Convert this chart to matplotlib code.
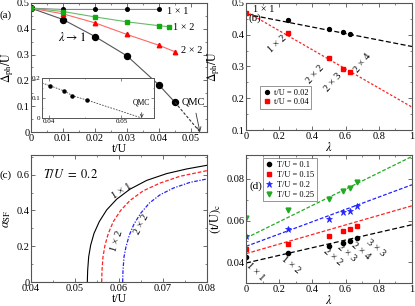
import matplotlib
matplotlib.use("Agg")
import matplotlib.pyplot as plt
from matplotlib.ticker import MultipleLocator, FuncFormatter

plt.rcParams['font.family'] = ['Liberation Serif', 'DejaVu Serif']
plt.rcParams['mathtext.fontset'] = 'stix'
plt.rcParams['font.size'] = 7.5

# ---------------- data ----------------
# panel (a)
t_a = [0.0, 0.01, 0.02, 0.03, 0.04]
d_11 = [0.48, 0.475, 0.475, 0.475, 0.475]
t_12 = [0.0, 0.01, 0.02, 0.03, 0.04, 0.043]
d_12 = [0.48, 0.467, 0.446, 0.427, 0.412, 0.408]
t_22 = [0.0, 0.01, 0.02, 0.03, 0.04, 0.045]
d_22 = [0.48, 0.458, 0.423, 0.378, 0.336, 0.311]
t_inf = [0.0, 0.01, 0.02, 0.03, 0.04, 0.045]
d_inf = [0.48, 0.436, 0.37, 0.295, 0.182, 0.115]
t_qmc = 0.0528
inset_t = [0.0401, 0.0421, 0.0432, 0.0452]
inset_d = [0.1615, 0.135, 0.1115, 0.09]
inset_line_t = [0.039, 0.0401, 0.0421, 0.0432, 0.0452, 0.0528]
inset_line_d = [0.175, 0.1615, 0.135, 0.1115, 0.09, 0.0]

# panel (b)
lam_b = [0.0, 0.25, 0.5, 0.583, 0.625]
d_b02 = [0.47, 0.447, 0.418, 0.408, 0.403]
d_b04 = [0.47, 0.407, 0.326, 0.291, 0.284]
fit_b02 = [0.465, 0.363]   # values at lambda = 0 and 1
fit_b04 = [0.473, 0.172]

# panel (c)
t_c11 = [0.0528, 0.05288, 0.05311, 0.05356, 0.05432, 0.05553, 0.0572, 0.05947,
         0.0625, 0.06629, 0.07083, 0.07538, 0.08]
a_c11 = [0.0, 0.0656, 0.141, 0.206, 0.272, 0.338, 0.403, 0.463, 0.519, 0.568,
         0.606, 0.632, 0.6525]
t_c12 = [0.05606, 0.05614, 0.05636, 0.05682, 0.05758, 0.05871, 0.06038, 0.0625,
         0.06553, 0.06932, 0.07386, 0.08]
a_c12 = [0.0, 0.0656, 0.141, 0.206, 0.272, 0.338, 0.4, 0.456, 0.51, 0.553,
         0.591, 0.6225]
t_c22 = [0.06083, 0.06091, 0.06114, 0.06159, 0.06235, 0.06341, 0.06492, 0.06689,
         0.06932, 0.07235, 0.07614, 0.08]
a_c22 = [0.0, 0.0656, 0.141, 0.197, 0.2625, 0.324, 0.384, 0.441, 0.4875, 0.525,
         0.557, 0.576]

# panel (d)
lam_d = [0.0, 0.25, 0.5, 0.583, 0.625, 0.667]
tc_01 = [0.0425, 0.0444, 0.0476, 0.0492, 0.0503, 0.0516]
tc_015 = [0.0463, 0.0489, 0.0527, 0.055, 0.0559, 0.0574]
tc_02 = [0.0527, 0.0561, 0.0609, 0.0639, 0.0647, 0.0668]
tc_025 = [0.0612, 0.0649, 0.0703, 0.074, 0.0756, 0.0783]
fit_01 = [0.0396, 0.058]
fit_015 = [0.0441, 0.0671]
fit_02 = [0.0476, 0.0772]
fit_025 = [0.0516, 0.0908]

W, H = 415, 306
fig = plt.figure(figsize=(W / 100, H / 100), dpi=100)


def add_ax(l, r, t, b):
    return fig.add_axes([l / W, 1 - b / H, (r - l) / W, (b - t) / H])


fmt = FuncFormatter(lambda v, p: '%g' % round(v, 6))
spine_col = '#555555'


def style(ax, xmaj, xmin, ymaj, ymin):
    ax.xaxis.set_major_locator(MultipleLocator(xmaj))
    ax.xaxis.set_minor_locator(MultipleLocator(xmin))
    ax.yaxis.set_major_locator(MultipleLocator(ymaj))
    ax.yaxis.set_minor_locator(MultipleLocator(ymin))
    ax.xaxis.set_major_formatter(fmt)
    ax.yaxis.set_major_formatter(fmt)
    ax.tick_params(which='both', direction='in', top=True, right=True,
                   color=spine_col, labelsize=7.5, pad=1.2)
    ax.tick_params(which='major', length=3, width=0.6)
    ax.tick_params(which='minor', length=1.6, width=0.5)
    for s in ax.spines.values():
        s.set_color(spine_col)
        s.set_linewidth(0.8)


# ---------------- panel (a) ----------------
axa = add_ax(31, 207, 3, 132)
axa.plot(t_a, d_11, '-', color='#888888', lw=0.8, marker='o', ms=2.6,
         mfc='black', mec='black', zorder=3)
axa.plot(t_22, d_22, '-', color='#ff6666', lw=0.8, marker='^', ms=3.2,
         mfc='#ff0000', mec='#ff0000', zorder=3)
axa.plot(t_12, d_12, '-', color='#66bb66', lw=0.8, marker='s', ms=2.9,
         mfc='#11aa11', mec='#11aa11', zorder=4)
axa.plot(t_inf, d_inf, '-', color='#555555', lw=0.8, marker='o', ms=4.3,
         mfc='black', mec='black', zorder=2)
axa.plot([t_inf[-1], t_qmc], [d_inf[-1], 0.0], '--', color='#333333',
         lw=0.8, dashes=(2.5, 1.5), zorder=2)
axa.set_xlim(0, 0.055)
axa.set_ylim(0, 0.5)
style(axa, 0.01, 0.005, 0.1, 0.05)
axa.set_xlabel('t/U', fontsize=8.5, labelpad=0)
axa.set_ylabel(r'$\Delta_{\rm ph}/{\rm U}$', fontsize=8.5)
axa.yaxis.set_label_coords(-0.088, 0.5)
axa.text(0.0425, 0.466, '1 × 1', fontsize=7.5, va='center')
axa.text(0.0444, 0.404, '1 × 2', fontsize=7.5, va='center')
axa.text(0.0469, 0.315, '2 × 2', fontsize=7.5, va='center')
axa.text(0.0084, 0.368, r'$\lambda \rightarrow 1$', fontsize=9, va='center')
axa.annotate('QMC', xy=(t_qmc, 0.0), xytext=(0.0508, 0.117),
             ha='center', va='center', fontsize=7.5,
             arrowprops=dict(arrowstyle='->', color='#333333', lw=0.6,
                             shrinkA=3, shrinkB=0))
fig.text(0 / W, 1 - 15 / H, '(a)', fontsize=8, va='center', ha='left')

# inset
axi = add_ax(42, 154, 78, 118)
axi.plot(inset_line_t, inset_line_d, '--', color='#444444', lw=0.6,
         dashes=(2, 1.5))
axi.plot(inset_t, inset_d, 'o', color='black', ms=2.2)
axi.set_xlim(0.039, 0.0545)
axi.set_ylim(0, 0.2)
axi.xaxis.set_major_locator(MultipleLocator(0.01))
axi.xaxis.set_minor_locator(MultipleLocator(0.005))
axi.yaxis.set_major_locator(MultipleLocator(0.1))
axi.yaxis.set_minor_locator(MultipleLocator(0.05))
axi.xaxis.set_major_formatter(fmt)
axi.yaxis.set_major_formatter(fmt)
axi.tick_params(which='both', direction='in', top=True, right=True,
                labelsize=5, pad=1, color=spine_col)
axi.tick_params(which='major', length=2, width=0.5)
axi.tick_params(which='minor', length=1, width=0.4)
for s in axi.spines.values():
    s.set_color(spine_col)
    s.set_linewidth(0.7)
axi.annotate('QMC', xy=(t_qmc, 0.0), xytext=(0.0528, 0.075),
             ha='center', va='center', fontsize=5.5,
             arrowprops=dict(arrowstyle='->', color='#333333', lw=0.5,
                             shrinkA=2, shrinkB=0))

# ---------------- panel (b) ----------------
axb = add_ax(246, 412, 3, 130)
axb.plot([0, 1], fit_b02, '--', color='black', lw=0.9, dashes=(4, 2))
axb.plot([0, 1], fit_b04, '--', color='#ff2222', lw=0.9, dashes=(2, 1.5))
axb.plot(lam_b, d_b02, 'o', color='black', ms=2.8, label='t/U = 0.02')
axb.plot(lam_b, d_b04, 's', color='#ff0000', ms=2.8, label='t/U = 0.04')
axb.set_xlim(0, 1)
axb.set_ylim(0.1, 0.5)
style(axb, 0.2, 0.1, 0.1, 0.05)
axb.set_xlabel(r'$\lambda$', fontsize=9, labelpad=0)
axb.set_ylabel(r'$\Delta_{\rm ph}/{\rm U}$', fontsize=8.5)
axb.yaxis.set_label_coords(-0.145, 0.5)
axb.text(0.04, 0.479, '1 × 1', fontsize=7.5, va='center')
axb.text(0.187, 0.37, '1 × 2', fontsize=7.5, va='center', ha='center',
         rotation=42)
axb.text(0.42, 0.275, '2 × 2', fontsize=7.5, va='center', ha='center',
         rotation=48)
axb.text(0.525, 0.25, '2 × 3', fontsize=7.5, va='center', ha='center',
         rotation=49)
axb.text(0.70, 0.31, '2 × 4', fontsize=7.5, va='center', ha='center',
         rotation=52)
axb.text(0.015, 0.452, '(b)', fontsize=8, va='center')
lg = axb.legend(loc='upper left', bbox_to_anchor=(0.084, 0.345),
                fontsize=6, frameon=True, fancybox=False, handlelength=1,
                handletextpad=0.4, borderpad=0.3, labelspacing=0.2,
                borderaxespad=0)
lg.get_frame().set_edgecolor('#666666')
lg.get_frame().set_linewidth(0.6)

# ---------------- panel (c) ----------------
axc = add_ax(31, 207, 155, 282)
axc.plot(t_c11, a_c11, '-', color='black', lw=0.8)
axc.plot(t_c12, a_c12, '--', color='#ff2222', lw=0.9, dashes=(3, 1.5))
axc.plot(t_c22, a_c22, '-.', color='#2222ff', lw=0.9, dashes=(3, 1.2, 1, 1.2))
axc.plot([0.04, t_c22[0]], [0, 0], '-', color='#8888ff', lw=0.8, zorder=1)
axc.set_xlim(0.04, 0.08)
axc.set_ylim(0, 0.71)
style(axc, 0.01, 0.005, 0.2, 0.1)
axc.set_xlabel('t/U', fontsize=8.5, labelpad=0)
axc.set_ylabel(r'$\alpha_{\rm SF}$', fontsize=9)
axc.yaxis.set_label_coords(-0.105, 0.5)
axc.text(0.0427, 0.603, r'$T/U\ =\ 0.2$', fontsize=9, va='center')
axc.text(0.0606, 0.509, '1 × 1', fontsize=7.5, va='center', ha='center',
         rotation=32)
axc.text(0.0595, 0.227, '1 × 2', fontsize=7.5, va='center', ha='center',
         rotation=72)
axc.text(0.0652, 0.321, '2 × 2', fontsize=7.5, va='center', ha='center',
         rotation=63)
fig.text(0 / W, 1 - 175 / H, '(c)', fontsize=8, va='center', ha='left')

# ---------------- panel (d) ----------------
axd = add_ax(246, 412, 155, 283)
axd.plot([0, 1], fit_01, '--', color='black', lw=0.9, dashes=(4, 2))
axd.plot([0, 1], fit_015, '--', color='#ff2222', lw=0.9, dashes=(3, 1.5))
axd.plot([0, 1], fit_02, '--', color='#2222ff', lw=0.9, dashes=(3, 1.5))
axd.plot([0, 1], fit_025, '--', color='#22aa22', lw=0.9, dashes=(3, 1.5))
axd.plot(lam_d, tc_01, 'o', color='black', ms=3.0, label='T/U = 0.1')
axd.plot(lam_d, tc_015, 's', color='#ff0000', ms=3.0, label='T/U = 0.15')
axd.plot(lam_d, tc_02, '*', color='#2222ff', ms=4.5, mew=0.5,
         label='T/U = 0.2')
axd.plot(lam_d, tc_025, 'v', color='#22aa22', ms=3.5, label='T/U = 0.25')
axd.set_xlim(0, 1)
axd.set_ylim(0.03, 0.0915)
style(axd, 0.2, 0.1, 0.02, 0.01)
axd.set_xlabel(r'$\lambda$', fontsize=9, labelpad=0)
axd.set_ylabel(r'$({\rm t/U})_{\rm c}$', fontsize=9)
axd.yaxis.set_label_coords(-0.14, 0.5)
lgd = axd.legend(loc='upper left', bbox_to_anchor=(0.1, 0.975),
                 fontsize=6, frameon=True, fancybox=False, handlelength=1,
                 handletextpad=0.4, borderpad=0.3, labelspacing=0.25,
                 borderaxespad=0)
lgd.get_frame().set_edgecolor('#666666')
lgd.get_frame().set_linewidth(0.6)
axd.text(0.02, 0.0765, '(d)', fontsize=8, va='center')
axd.text(0.058, 0.0356, '1 × 1', fontsize=7.5, va='center', ha='center',
         rotation=-45)
axd.text(0.269, 0.0388, '1 × 2', fontsize=7.5, va='center', ha='center',
         rotation=-40)
axd.text(0.525, 0.0425, '2 × 2', fontsize=7.5, va='center', ha='center',
         rotation=-40)
axd.text(0.61, 0.0445, '2 × 3', fontsize=7.5, va='center', ha='center',
         rotation=-40)
axd.text(0.69, 0.0455, '2 × 4', fontsize=7.5, va='center', ha='center',
         rotation=-40)
axd.text(0.78, 0.047, '3 × 3', fontsize=7.5, va='center', ha='center',
         rotation=-40)

fig.savefig('out.png', dpi=100)
